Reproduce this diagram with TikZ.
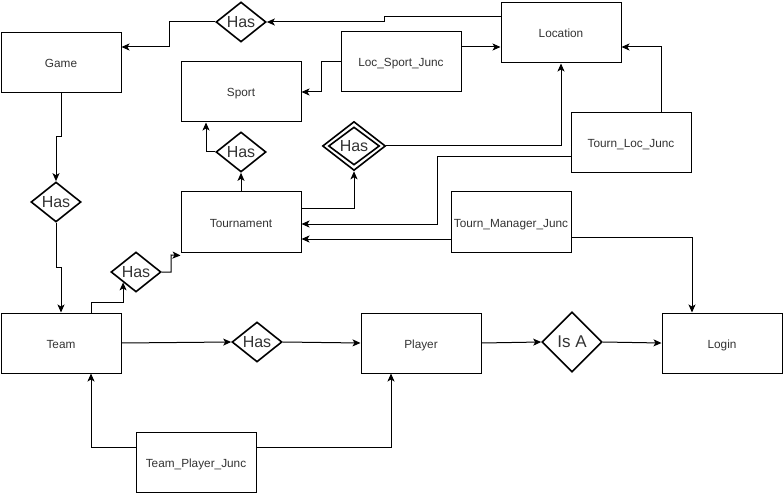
\documentclass[tikz,border=0pt]{standalone}
\usepackage{fontspec}
\setmainfont{Liberation Sans}
\usetikzlibrary{shapes.geometric,arrows.meta}
\definecolor{txt}{RGB}{51,51,51}
\begin{document}
\begin{tikzpicture}[x=1pt,y=-1pt,
  ent/.style={draw,line width=1pt,minimum width=120pt,minimum height=60pt,inner sep=0pt,text height=11pt,text depth=1pt,text=txt,font=\fontsize{11.8}{13}\selectfont},
  rel/.style={draw,line width=1.6pt,shape=diamond,inner sep=0pt,minimum width=50pt,minimum height=40pt},
  reltext/.style={text=txt,font=\fontsize{16}{18}\selectfont},
  arr/.style={line width=1pt,-{Stealth[length=8pt,width=7pt,inset=2pt]}},
  ln/.style={line width=1pt}]
\useasboundingbox (0,0) rectangle (783,494);
% entities
\node[ent] (game) at (61,63) {Game};
\node[ent] (loc) at (561,33) {Location};
\node[ent] (sport) at (241,92) {Sport};
\node[ent] (lsj) at (401,62) {Loc\_Sport\_Junc};
\node[ent] (tourn) at (241,222) {Tournament};
\node[ent] (tlj) at (631,143) {Tourn\_Loc\_Junc};
\node[ent] (tmj) at (511,222) {Tourn\_Manager\_Junc};
\node[ent] (team) at (61,343) {Team};
\node[ent] (player) at (421,343) {Player};
\node[ent] (login) at (722,343) {Login};
\node[ent] (tpj) at (196,462) {Team\_Player\_Junc};
% relationships
\node[rel,label={[reltext]center:Has}] (hasTop) at (241,22) {};
\node[rel,label={[reltext]center:Has}] (hasSport) at (241,152) {};
\node[rel,minimum width=63pt,minimum height=49pt] (hasDouble) at (354,146) {};
\node[rel,minimum width=51pt,minimum height=38pt,label={[reltext]center:Has}] (hasDoubleIn) at (354,146) {};
\node[rel,label={[reltext]center:Has}] (hasGame) at (56,202) {};
\node[rel,label={[reltext]center:Has}] (hasTeamT) at (136,272) {};
\node[rel,label={[reltext]center:Has}] (hasTP) at (257,342) {};
\node[rel,minimum width=60pt,minimum height=60pt,label={[reltext,font=\fontsize{17}{19}\selectfont]center:Is A}] (isa) at (572,342) {};
% connectors
\draw[arr] ([yshift=16pt]loc.west) -- (384,17) -- (384,22) -- (hasTop.east);
\draw[arr] (hasTop.west) -| (169,47) -- ([yshift=16pt]game.east);
\draw[arr] ([yshift=15pt]lsj.east) -- ([yshift=15pt]lsj.east -| loc.west);
\draw[arr] (lsj.west) -- (321,62) |- (sport.east);
\draw[arr] ([xshift=30pt]tlj.north) |- ([yshift=-14pt]loc.east);
\draw[arr] (hasDouble.east) -| (loc.south);
\draw[arr] ([yshift=13pt]tourn.east) -| (hasDouble.south);
\draw[arr] ([yshift=-14pt]tlj.west) -- (437,157) -- (437,224) -- ([yshift=-2pt]tourn.east);
\draw[arr] ([yshift=-17pt]tmj.west) -- ([yshift=-17pt]tmj.west -| tourn.east);
\draw[arr] ([yshift=-15pt]tmj.east) -| ([xshift=-30pt]login.north);
\draw[arr] (tourn.north) -- (hasSport.south);
\draw[arr] (hasSport.west) -| ([xshift=-35pt]sport.south);
\draw[arr] (game.south) -- (61,137) -- (56,137) -- (hasGame.north);
\draw[arr] (hasGame.south) -- (56,267) -- (61,267) -- (team.north);
\draw[arr] ([xshift=30pt]team.north) -- (91,302) -| (hasTeamT.south west);
\draw[arr] (hasTeamT.east) -- (171,272) -- (171,255) -- ([yshift=-3pt]tourn.south west);
\draw[arr] (team.east) -- (hasTP.west);
\draw[arr] (hasTP.east) -- (player.west);
\draw[arr] (player.east) -- (isa.west);
\draw[arr] (isa.east) -- (login.west);
\draw[arr] ([yshift=15pt]tpj.west) -| ([xshift=30pt]team.south);
\draw[arr] ([yshift=15pt]tpj.east) -| ([xshift=-30pt]player.south);
\end{tikzpicture}
\end{document}
